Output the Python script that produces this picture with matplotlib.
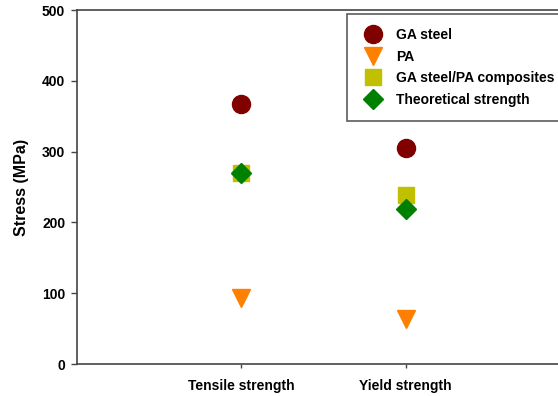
import matplotlib.pyplot as plt

plt.rcParams["font.family"] = ["Liberation Sans", "DejaVu Sans"]
plt.rcParams["font.weight"] = "bold"

# categories and measured stresses (MPa)
categories = ["Tensile strength", "Yield strength"]
ga_steel = [367, 305]
pa = [93, 64]
composites = [270, 239]
theoretical = [270, 219]

x = [1, 2]

fig = plt.figure(figsize=(5.58, 3.96), dpi=100)
ax = fig.add_axes([77 / 558, 32 / 396, 493 / 558, 354 / 396])

ax.plot(x, ga_steel, "o", color="#800000", ms=13, ls="none", label="GA steel")
ax.plot(x, pa, "v", color="#FF8000", ms=13, ls="none", label="PA")
ax.plot(x, composites, "s", color="#C0C000", ms=11.5, ls="none",
        label="GA steel/PA composites")
ax.plot(x, theoretical, "D", color="#008000", ms=10.5, ls="none",
        label="Theoretical strength")

ax.set_xlim(0, 3)
ax.set_ylim(0, 500)
ax.set_xticks(x)
ax.set_xticklabels(categories, fontsize=10, fontweight="bold")
ax.set_yticks(range(0, 501, 100))
ax.tick_params(axis="y", labelsize=10, length=4, width=1, color="#444444",
               pad=4.5)
ax.tick_params(axis="x", length=3, width=1, color="#444444", pad=8)
for lab in ax.get_yticklabels():
    lab.set_fontweight("bold")
ax.set_ylabel("Stress (MPa)", fontsize=11.5, fontweight="bold", labelpad=9)

for side in ["left", "bottom", "top"]:
    ax.spines[side].set_color("#444444")
    ax.spines[side].set_linewidth(1.2)
ax.spines["right"].set_visible(False)

leg = ax.legend(loc="upper left", bbox_to_anchor=(347 / 558, 1 - 14 / 396),
                bbox_transform=fig.transFigure, borderaxespad=0,
                fontsize=10, frameon=True, fancybox=False,
                handletextpad=0.8, labelspacing=0.55, borderpad=1.0,
                handlelength=1.75, markerscale=1.0)
leg.get_frame().set_edgecolor("#333333")
leg.get_frame().set_linewidth(1.2)
for t in leg.get_texts():
    t.set_fontweight("bold")

fig.savefig("out.png", dpi=100)
